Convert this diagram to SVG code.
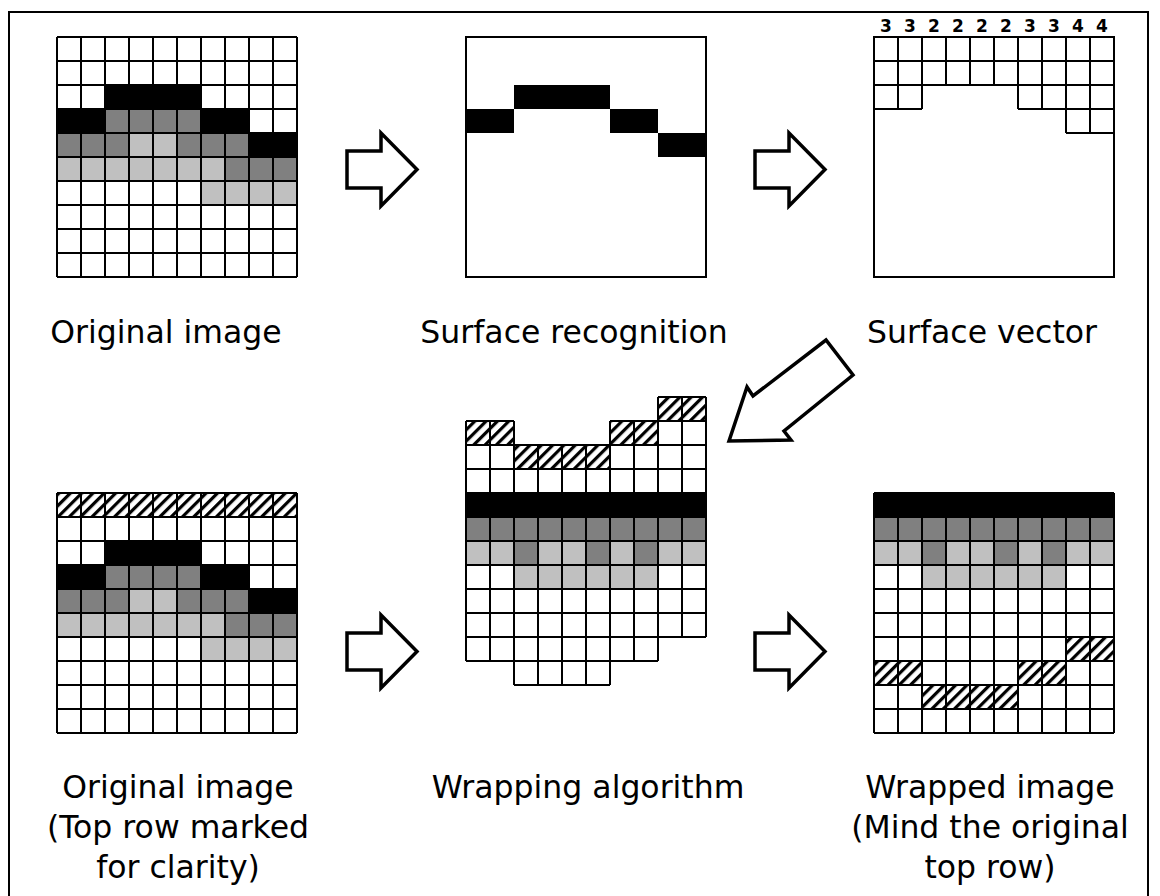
<svg xmlns="http://www.w3.org/2000/svg" xmlns:xlink="http://www.w3.org/1999/xlink" width="1160" height="896" viewBox="0 0 1160 896">
  <style>
    .frame { fill: none; stroke: #000; stroke-width: 2; }
    .grid { fill: none; stroke: #000; stroke-width: 2; }
    .box { fill: #fff; stroke: #000; stroke-width: 2; }
    .bg { fill: #fff; }
    .k { fill: #000; }
    .d { fill: #808080; }
    .l { fill: #c0c0c0; }
    .h { fill: url(#hatch); }
    .arrow { fill: #fff; stroke: #000; stroke-width: 3.5; stroke-linejoin: miter; }
    .label { font-family: "DejaVu Sans", Verdana, sans-serif; font-size: 31.5px; fill: #000; text-anchor: middle; }
    .num { font-family: "DejaVu Sans", Verdana, sans-serif; font-weight: bold; font-size: 17px; fill: #000; text-anchor: middle; }
  </style>
  <defs>
    <!-- diagonal hatching for the marked top row -->
    <pattern id="hatch" patternUnits="userSpaceOnUse" width="8" height="8" patternTransform="rotate(45)">
      <rect width="8" height="8" fill="#fff"/>
      <rect width="3.2" height="8" fill="#000"/>
    </pattern>
    <!-- grey-level contents of the 10x10 source picture -->
    <g id="fills">
      <rect class="k" x="48" y="48" width="96" height="24"/>
      <rect class="k" x="0" y="72" width="48" height="24"/>
      <rect class="d" x="48" y="72" width="96" height="24"/>
      <rect class="k" x="144" y="72" width="48" height="24"/>
      <rect class="d" x="0" y="96" width="72" height="24"/>
      <rect class="l" x="72" y="96" width="48" height="24"/>
      <rect class="d" x="120" y="96" width="72" height="24"/>
      <rect class="k" x="192" y="96" width="48" height="24"/>
      <rect class="l" x="0" y="120" width="168" height="24"/>
      <rect class="d" x="168" y="120" width="72" height="24"/>
      <rect class="l" x="144" y="144" width="96" height="24"/>
    </g>
    <path id="lines" class="grid" d="M0,0H240M0,24H240M0,48H240M0,72H240M0,96H240M0,120H240M0,144H240M0,168H240M0,192H240M0,216H240M0,240H240M0,0V240M24,0V240M48,0V240M72,0V240M96,0V240M120,0V240M144,0V240M168,0V240M192,0V240M216,0V240M240,0V240"/>
    <rect id="colBg" class="bg" width="24" height="240"/>
    <path id="colLines" class="grid" d="M0,0V240M24,0V240M0,0H24M0,24H24M0,48H24M0,72H24M0,96H24M0,120H24M0,144H24M0,168H24M0,192H24M0,216H24M0,240H24"/>
    <polygon id="rightArrow" class="arrow" points="347,151 381,151 381,133 417,169.5 381,206 381,188 347,188"/>
  </defs>

  <!-- outer frame -->
  <rect class="frame" x="9" y="12" width="1139" height="900"/>

  <!-- top row: original picture -->
  <g id="original-image" transform="translate(57,37)">
    <rect class="bg" width="240" height="240"/>
    <use href="#fills"/>
    <use href="#lines"/>
  </g>

  <!-- top row: detected surface -->
  <g id="surface-recognition" transform="translate(466,37)">
    <rect class="box" width="240" height="240"/>
    <rect class="k" x="0" y="72" width="48" height="24"/>
    <rect class="k" x="48" y="48" width="96" height="24"/>
    <rect class="k" x="144" y="72" width="48" height="24"/>
    <rect class="k" x="192" y="96" width="48" height="24"/>
  </g>

  <!-- top row: per-column surface depth -->
  <g id="surface-vector" transform="translate(874,37)">
    <rect class="box" width="240" height="240"/>
    <path class="grid" d="M0,24H240M0,48H240M0,72H48M144,72H240M192,96H240M24,0V72M48,0V72M72,0V48M96,0V48M120,0V48M144,0V72M168,0V72M192,0V96M216,0V96"/>
    <text class="num" x="12" y="-5.3">3</text>
    <text class="num" x="36" y="-5.3">3</text>
    <text class="num" x="60" y="-5.3">2</text>
    <text class="num" x="84" y="-5.3">2</text>
    <text class="num" x="108" y="-5.3">2</text>
    <text class="num" x="132" y="-5.3">2</text>
    <text class="num" x="156" y="-5.3">3</text>
    <text class="num" x="180" y="-5.3">3</text>
    <text class="num" x="204" y="-5.3">4</text>
    <text class="num" x="228" y="-5.3">4</text>
  </g>

  <!-- bottom row: picture with marked top row -->
  <g id="original-marked" transform="translate(57,493)">
    <rect class="bg" width="240" height="240"/>
    <use href="#fills"/>
    <rect class="h" x="0" y="0" width="240" height="24"/>
    <use href="#lines"/>
  </g>

  <!-- bottom row: columns shifted up by their depth -->
  <g id="wrapping-algorithm">
    <use href="#colBg" x="466" y="421"/>
    <use href="#colBg" x="490" y="421"/>
    <use href="#colBg" x="514" y="445"/>
    <use href="#colBg" x="538" y="445"/>
    <use href="#colBg" x="562" y="445"/>
    <use href="#colBg" x="586" y="445"/>
    <use href="#colBg" x="610" y="421"/>
    <use href="#colBg" x="634" y="421"/>
    <use href="#colBg" x="658" y="397"/>
    <use href="#colBg" x="682" y="397"/>
    <rect class="h" x="466" y="421" width="48" height="24"/>
    <rect class="h" x="514" y="445" width="96" height="24"/>
    <rect class="h" x="610" y="421" width="48" height="24"/>
    <rect class="h" x="658" y="397" width="48" height="24"/>
    <rect class="k" x="466" y="493" width="240" height="24"/>
    <rect class="d" x="466" y="517" width="240" height="24"/>
    <rect class="l" x="466" y="541" width="48" height="24"/>
    <rect class="d" x="514" y="541" width="24" height="24"/>
    <rect class="l" x="538" y="541" width="48" height="24"/>
    <rect class="d" x="586" y="541" width="24" height="24"/>
    <rect class="l" x="610" y="541" width="24" height="24"/>
    <rect class="d" x="634" y="541" width="24" height="24"/>
    <rect class="l" x="658" y="541" width="48" height="24"/>
    <rect class="l" x="514" y="565" width="144" height="24"/>
    <use href="#colLines" x="466" y="421"/>
    <use href="#colLines" x="490" y="421"/>
    <use href="#colLines" x="514" y="445"/>
    <use href="#colLines" x="538" y="445"/>
    <use href="#colLines" x="562" y="445"/>
    <use href="#colLines" x="586" y="445"/>
    <use href="#colLines" x="610" y="421"/>
    <use href="#colLines" x="634" y="421"/>
    <use href="#colLines" x="658" y="397"/>
    <use href="#colLines" x="682" y="397"/>
  </g>

  <!-- bottom row: wrapped result -->
  <g id="wrapped-image" transform="translate(874,493)">
    <rect class="bg" width="240" height="240"/>
    <rect class="k" x="0" y="0" width="240" height="24"/>
    <rect class="d" x="0" y="24" width="240" height="24"/>
    <rect class="l" x="0" y="48" width="48" height="24"/>
    <rect class="d" x="48" y="48" width="24" height="24"/>
    <rect class="l" x="72" y="48" width="48" height="24"/>
    <rect class="d" x="120" y="48" width="24" height="24"/>
    <rect class="l" x="144" y="48" width="24" height="24"/>
    <rect class="d" x="168" y="48" width="24" height="24"/>
    <rect class="l" x="192" y="48" width="48" height="24"/>
    <rect class="l" x="48" y="72" width="144" height="24"/>
    <rect class="h" x="192" y="144" width="48" height="24"/>
    <rect class="h" x="0" y="168" width="48" height="24"/>
    <rect class="h" x="144" y="168" width="48" height="24"/>
    <rect class="h" x="48" y="192" width="96" height="24"/>
    <use href="#lines"/>
  </g>

  <!-- connectors -->
  <g id="connectors">
    <use href="#rightArrow"/>
    <use href="#rightArrow" x="408"/>
    <use href="#rightArrow" y="482"/>
    <use href="#rightArrow" x="408" y="482"/>
    <polygon class="arrow" points="729,441 747,387 753,396 826,340 853,375 784,431 791,440"/>
  </g>

  <!-- captions -->
  <g id="labels">
    <text class="label" x="166" y="343">Original image</text>
    <text class="label" x="574" y="343">Surface recognition</text>
    <text class="label" x="982" y="343">Surface vector</text>
    <text class="label" x="178" y="798">Original image</text>
    <text class="label" x="178" y="838">(Top row marked</text>
    <text class="label" x="178" y="878">for clarity)</text>
    <text class="label" x="588" y="798">Wrapping algorithm</text>
    <text class="label" x="990" y="798">Wrapped image</text>
    <text class="label" x="990" y="838">(Mind the original</text>
    <text class="label" x="990" y="878">top row)</text>
  </g>
</svg>
